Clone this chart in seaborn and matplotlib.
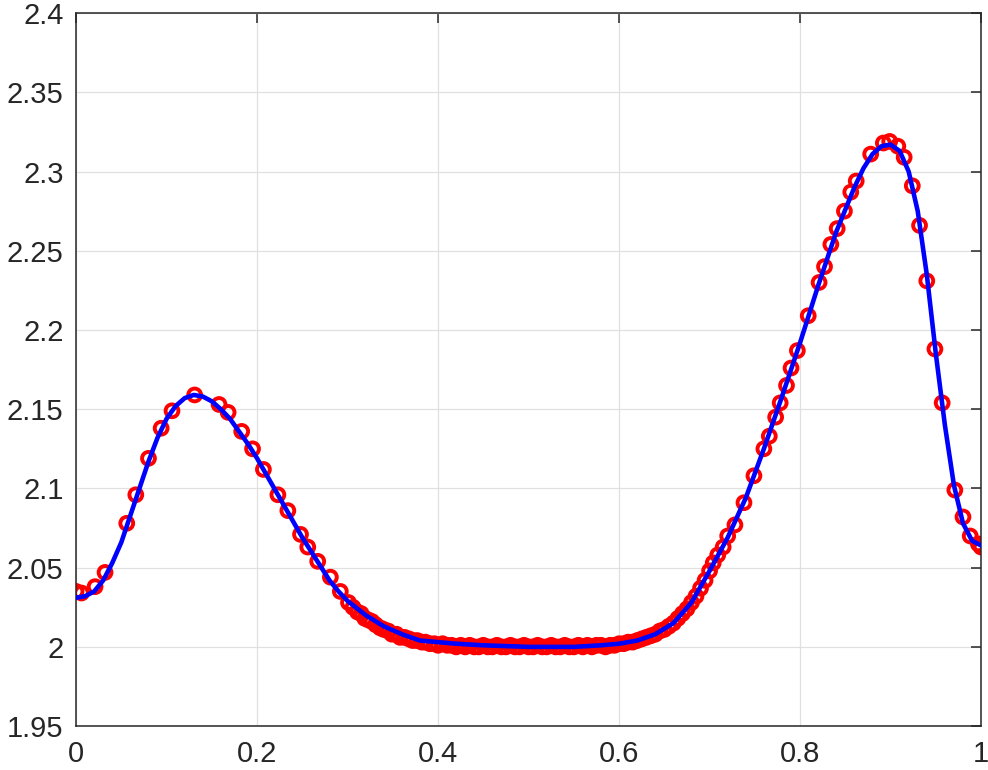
import matplotlib
matplotlib.use("Agg")
import matplotlib.pyplot as plt
import seaborn as sns

# solid curve
line_x = [0.00, 0.01, 0.02, 0.03, 0.04, 0.05, 0.06, 0.07, 0.08, 0.09,
          0.10, 0.11, 0.12, 0.13, 0.14, 0.15, 0.16, 0.17, 0.18, 0.19,
          0.20, 0.21, 0.22, 0.23, 0.24, 0.25, 0.26, 0.27, 0.28, 0.29,
          0.30, 0.32, 0.34, 0.36, 0.38, 0.40, 0.42, 0.45, 0.50, 0.55,
          0.58, 0.60, 0.62, 0.64, 0.66, 0.68, 0.70, 0.72, 0.74, 0.76,
          0.78, 0.80, 0.82, 0.84, 0.86, 0.87, 0.88, 0.89, 0.90, 0.91,
          0.92, 0.93, 0.94, 0.95, 0.96, 0.97, 0.98, 0.99, 1.00]
line_y = [2.031, 2.032, 2.035, 2.042, 2.053, 2.066, 2.083, 2.100, 2.117, 2.132,
          2.144, 2.152, 2.157, 2.159, 2.158, 2.155, 2.150, 2.144, 2.136, 2.128,
          2.119, 2.109, 2.099, 2.089, 2.079, 2.069, 2.060, 2.051, 2.042, 2.035,
          2.029, 2.020, 2.013, 2.008, 2.004, 2.003, 2.002, 2.001, 2.000, 2.000,
          2.001, 2.002, 2.004, 2.008, 2.015, 2.028, 2.048, 2.069, 2.094, 2.125,
          2.158, 2.192, 2.228, 2.262, 2.290, 2.302, 2.311, 2.316, 2.317, 2.313,
          2.300, 2.275, 2.235, 2.185, 2.140, 2.102, 2.078, 2.067, 2.064]

# circle markers
mk_x = [0.000, 0.006, 0.021, 0.032, 0.056, 0.066, 0.080, 0.094, 0.106, 0.131,
        0.158, 0.168, 0.183, 0.195, 0.207, 0.223, 0.234, 0.248, 0.256, 0.267,
        0.281, 0.292, 0.301,
        0.306, 0.311, 0.315, 0.319, 0.323, 0.327, 0.331, 0.336, 0.340, 0.345,
        0.349, 0.354, 0.358, 0.363, 0.368, 0.372, 0.377, 0.382, 0.386, 0.391,
        0.396, 0.400, 0.405, 0.410, 0.415, 0.420, 0.425, 0.430, 0.435, 0.440,
        0.445, 0.450, 0.455, 0.460, 0.465, 0.470, 0.475, 0.480, 0.485, 0.490,
        0.495, 0.500, 0.505, 0.510, 0.515, 0.520, 0.525, 0.530, 0.535, 0.540,
        0.545, 0.550, 0.555, 0.560, 0.565, 0.570, 0.575, 0.580, 0.585, 0.590,
        0.595, 0.600, 0.605, 0.610, 0.615, 0.620, 0.625, 0.630, 0.635, 0.640,
        0.645, 0.650, 0.655, 0.660, 0.665, 0.670, 0.675, 0.680, 0.685, 0.690,
        0.695, 0.700, 0.704,
        0.709, 0.715, 0.720, 0.728, 0.738, 0.749, 0.760, 0.766, 0.773, 0.778,
        0.785, 0.790, 0.797, 0.809, 0.821, 0.827, 0.834, 0.841, 0.849, 0.856,
        0.862, 0.878, 0.892, 0.899, 0.908, 0.915, 0.924, 0.932, 0.940, 0.949,
        0.957, 0.971, 0.980, 0.988, 0.997, 1.000]
mk_y = [2.035, 2.034, 2.038, 2.047, 2.078, 2.096, 2.119, 2.138, 2.149, 2.159,
        2.153, 2.148, 2.136, 2.125, 2.112, 2.096, 2.086, 2.071, 2.063, 2.054,
        2.044, 2.035, 2.028,
        2.025, 2.022, 2.021, 2.018, 2.017, 2.016, 2.014, 2.012, 2.011, 2.010,
        2.008, 2.008, 2.006, 2.006, 2.005, 2.004, 2.004, 2.003, 2.003, 2.002,
        2.002, 2.001, 2.002, 2.001, 2.001, 2.000, 2.001, 2.000, 2.001, 2.000,
        2.000, 2.001, 2.000, 2.000, 2.001, 2.000, 2.000, 2.001, 2.000, 2.000,
        2.001, 2.000, 2.000, 2.001, 2.000, 2.000, 2.001, 2.000, 2.000, 2.001,
        2.000, 2.000, 2.001, 2.000, 2.001, 2.000, 2.001, 2.001, 2.000, 2.001,
        2.001, 2.002, 2.002, 2.003, 2.003, 2.004, 2.005, 2.006, 2.007, 2.008,
        2.010, 2.011, 2.013, 2.015, 2.018, 2.021, 2.024, 2.028, 2.032, 2.037,
        2.042, 2.048, 2.053,
        2.058, 2.063, 2.070, 2.077, 2.091, 2.108, 2.125, 2.133, 2.145, 2.154,
        2.165, 2.176, 2.187, 2.209, 2.230, 2.240, 2.254, 2.264, 2.275, 2.287,
        2.294, 2.311, 2.318, 2.319, 2.316, 2.309, 2.291, 2.266, 2.231, 2.188,
        2.154, 2.099, 2.082, 2.070, 2.065, 2.063]

x_ticks = [0, 0.2, 0.4, 0.6, 0.8, 1]
x_labels = ["0", "0.2", "0.4", "0.6", "0.8", "1"]
y_ticks = [1.95, 2.0, 2.05, 2.1, 2.15, 2.2, 2.25, 2.3, 2.35, 2.4]
y_labels = ["1.95", "2", "2.05", "2.1", "2.15", "2.2", "2.25", "2.3", "2.35", "2.4"]

sns.set_style("white")
plt.rcParams['font.family'] = ['Liberation Sans', 'DejaVu Sans']

fig = plt.figure(figsize=(9.88, 7.7), dpi=100)
ax = fig.add_axes([0.077, 0.057, 0.916, 0.926])

sns.scatterplot(x=mk_x, y=mk_y, marker='o', s=85, facecolor='none',
                edgecolor='#ff0000', linewidth=2.8, ax=ax, zorder=2)
sns.lineplot(x=line_x, y=line_y, color='#0000ff', linewidth=3.3, ax=ax,
             zorder=3, sort=False)

ax.set_xlim(0, 1)
ax.set_ylim(1.95, 2.4)
ax.set_xticks(x_ticks)
ax.set_xticklabels(x_labels)
ax.set_yticks(y_ticks)
ax.set_yticklabels(y_labels)

ax.grid(True, color='#e0e0e0', linewidth=0.9)
ax.set_axisbelow(True)
for sp in ax.spines.values():
    sp.set_color('#262626')
    sp.set_linewidth(1.1)
    sp.set_visible(True)

ax.tick_params(axis='both', which='both', direction='in', length=7, width=1.1,
               colors='#262626', labelsize=21, top=True, right=True)
ax.tick_params(axis='x', pad=10)
ax.tick_params(axis='y', pad=9)

plt.savefig('out.png', dpi=100)
